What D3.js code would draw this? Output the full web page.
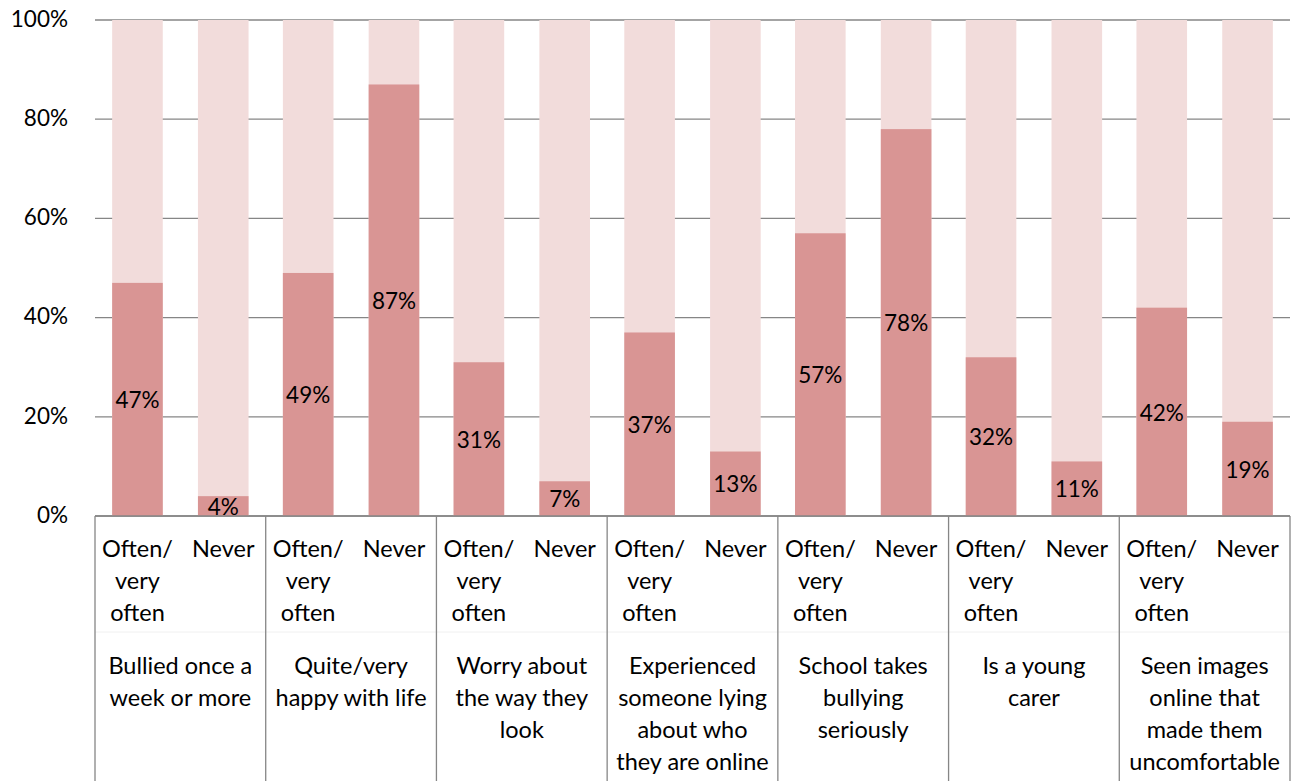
<!DOCTYPE html>
<html><head><meta charset="utf-8">
<script src="https://cdn.jsdelivr.net/npm/d3@7"></script>
<style>body{margin:0;background:#fff}svg{display:block}text{font-family:Lato,"Open Sans",sans-serif;fill:#000}</style>
</head><body><svg id="c" width="1293" height="781"></svg>
<script>
const groups = ["Bullied once a week or more","Quite/very happy with life","Worry about the way they look","Experienced someone lying about who they are online","School takes bullying seriously","Is a young carer","Seen images online that made them uncomfortable"];
const groupLines = [["Bullied once a","week or more"],["Quite/very","happy with life"],["Worry about","the way they","look"],["Experienced","someone lying","about who","they are online"],["School takes","bullying","seriously"],["Is a young","carer"],["Seen images","online that","made them","uncomfortable"]];
const subCats = ["Often/very often","Never"];
const subLines = [["Often/","very","often"],["Never"]];
const oftenValues = [47,49,31,37,57,32,42];
const neverValues = [4,87,7,13,78,11,19];
const yTicks = [0,20,40,60,80,100];

const FS = 23.5;
const svg = d3.select("#c");
const L=95,R=1290,T=20,B=516;
const x0 = d3.scaleBand().domain(groups).range([L,R]).padding(0);
const x1 = d3.scaleBand().domain(subCats).range([0,x0.bandwidth()]).paddingInner(0.41).paddingOuter(0.2);
const y = d3.scaleLinear().domain([0,100]).range([B,T]);

svg.append("g").selectAll("line").data(yTicks).join("line")
  .attr("x1",L).attr("x2",R).attr("y1",d=>y(d)).attr("y2",d=>y(d))
  .attr("stroke","#868686").attr("stroke-width",1.3);
svg.append("g").selectAll("text").data(yTicks).join("text")
  .attr("x",68).attr("y",d=>y(d)+1).attr("text-anchor","end").attr("dominant-baseline","middle")
  .attr("font-size",FS-1).text(d=>d+"%");

const rows = [];
groups.forEach((g,i)=>{
  rows.push({g, s:subCats[0], v:oftenValues[i]});
  rows.push({g, s:subCats[1], v:neverValues[i]});
});
const bars = svg.append("g");
bars.selectAll("rect.bg").data(rows).join("rect").attr("class","bg")
  .attr("x",d=>x0(d.g)+x1(d.s)).attr("width",x1.bandwidth())
  .attr("y",y(100)).attr("height",y(0)-y(100)).attr("fill","#F2DCDB");
bars.selectAll("rect.fg").data(rows).join("rect").attr("class","fg")
  .attr("x",d=>x0(d.g)+x1(d.s)).attr("width",x1.bandwidth())
  .attr("y",d=>y(d.v)).attr("height",d=>y(0)-y(d.v)).attr("fill","#D99594");
bars.selectAll("text").data(rows).join("text")
  .attr("x",d=>x0(d.g)+x1(d.s)+x1.bandwidth()/2).attr("y",d=>(y(d.v)+y(0))/2+3)
  .attr("text-anchor","middle").attr("dominant-baseline","middle").attr("font-size",FS-1)
  .text(d=>d.v+"%");

svg.append("line").attr("x1",L).attr("x2",R).attr("y1",B).attr("y2",B).attr("stroke","#868686").attr("stroke-width",1.3);
svg.append("line").attr("x1",L).attr("x2",R).attr("y1",632).attr("y2",632).attr("stroke","#f0f0f0").attr("stroke-width",1);
const bounds = groups.map(g=>x0(g)).concat([R]);
svg.append("g").selectAll("line").data(bounds).join("line")
  .attr("x1",d=>d).attr("x2",d=>d).attr("y1",B).attr("y2",781)
  .attr("stroke","#868686").attr("stroke-width",1.3);

groups.forEach((g,i)=>{
  subCats.forEach((s,j)=>{
    const cx = x0(g)+x1(s)+x1.bandwidth()/2;
    subLines[j].forEach((ln,k)=>{
      svg.append("text").attr("x",cx).attr("y",551+k*32).attr("text-anchor","middle")
        .attr("dominant-baseline","middle").attr("font-size",FS).text(ln);
    });
  });
  const gx = x0(g)+x0.bandwidth()/2;
  groupLines[i].forEach((ln,k)=>{
    svg.append("text").attr("x",gx).attr("y",668+k*32).attr("text-anchor","middle")
      .attr("dominant-baseline","middle").attr("font-size",FS).text(ln);
  });
});
</script></body></html>
